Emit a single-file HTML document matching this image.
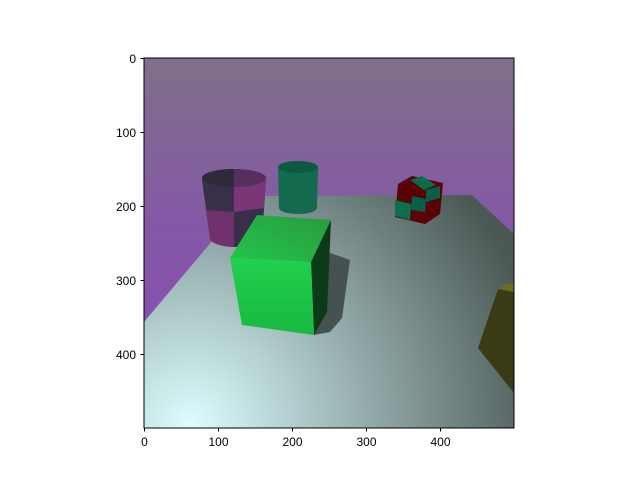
<!DOCTYPE html>
<html><head><meta charset="utf-8"><style>
html,body{margin:0;padding:0;background:#fff;}
svg{display:block;font-family:"Liberation Sans","DejaVu Sans",sans-serif;}
</style></head><body>
<svg width="640" height="480" viewBox="0 0 640 480">
<defs>
<linearGradient id="sky" x1="0" y1="0" x2="0" y2="1">
<stop offset="0" stop-color="#80708a"/><stop offset="0.45" stop-color="#8458a6"/><stop offset="1" stop-color="#8a48b8"/>
</linearGradient>
<radialGradient id="floor" cx="190" cy="425" r="360" gradientUnits="userSpaceOnUse">
<stop offset="0" stop-color="#dcfefe"/><stop offset="0.45" stop-color="#9ab2b2"/><stop offset="1" stop-color="#4b5855"/>
</radialGradient>
<linearGradient id="gfront" x1="0" y1="0" x2="0" y2="1"><stop offset="0" stop-color="#22d04e"/><stop offset="1" stop-color="#18b840"/></linearGradient>
<linearGradient id="gtop" x1="0" y1="1" x2="1" y2="0"><stop offset="0" stop-color="#22c54a"/><stop offset="1" stop-color="#2a9a40"/></linearGradient>
<clipPath id="ax"><rect x="144" y="58" width="370" height="370"/></clipPath>
</defs>
<g clip-path="url(#ax)">
<rect x="144" y="58" width="370" height="370" fill="url(#sky)"/>
<polygon points="250,196 472,195 514,234 514,428 144,428 144,322" fill="url(#floor)"/>
<!-- magenta cylinder -->
<g>
<path d="M202,180 L210,238 A26,9 0 0 0 262,238 L266,180 Z" fill="#3a2f4a"/>
<path d="M234,185 L234,212 L264,208 L266,180 Z" fill="#7a3676"/>
<path d="M206,210 L210,238 A26,9 0 0 0 234,247 L234,212 Z" fill="#70306e"/>
<ellipse cx="234" cy="178" rx="32" ry="9" fill="#55305e"/>
<path d="M202,178 A32,9 0 0 1 234,169 L234,187 A32,9 0 0 1 202,178Z" fill="#2e2a3c"/>
</g>
<!-- green cylinder -->
<g>
<path d="M278,167 L279,208 A19,6 0 0 0 317,208 L318,167 Z" fill="#136a4e"/>
<ellipse cx="298" cy="167" rx="20" ry="6" fill="#0e5a40"/>
</g>
<!-- small checker cube -->
<g>
<polygon points="398,184 412,176 443,183 440,214 425,224 395,217" fill="#5a0206"/>
<polygon points="410,180 422,176 436,185 424,190" fill="#0a6a4a"/>
<polygon points="412,196 426,199 425,212 411,210" fill="#05604a"/>
<polygon points="395,200 411,204 410,220 395,216" fill="#0a7050"/>
<polygon points="426,190 440,186 440,198 426,202" fill="#086048"/>
</g>
<!-- shadow -->
<polygon points="314,335 322,250 350,260 342,318 330,332" fill="#465250"/>
<!-- green cube -->
<g>
<polygon points="230,258 257,215 331,220 311,262" fill="url(#gtop)"/>
<polygon points="311,262 331,220 327,312 314,335" fill="#0b3a16"/>
<polygon points="230,258 311,262 314,335 242,325" fill="url(#gfront)"/>
</g>
<!-- yellow cube -->
<g>
<polygon points="478,348 498,289 514,286 514,393" fill="#3a3a14"/>
<polygon points="498,289 505,284 514,283 514,292" fill="#6a6a22"/>
</g>
</g>
<rect x="144" y="58" width="370" height="370" fill="none" stroke="#000" stroke-width="1"/>
<g id="ticks" font-size="12" fill="#000"></g>
<script>
const xTicks=[0,100,200,300,400];
const yTicks=[0,100,200,300,400];
const ns="http://www.w3.org/2000/svg";
const g=document.getElementById('ticks');
const sx=v=>144.5+v*0.74, sy=v=>58.5+v*0.74;
xTicks.forEach(v=>{
 const l=document.createElementNS(ns,'line');
 l.setAttribute('x1',sx(v));l.setAttribute('x2',sx(v));l.setAttribute('y1',428);l.setAttribute('y2',431.5);l.setAttribute('stroke','#000');
 
 
 g.appendChild(l);
 const t=document.createElementNS(ns,'text');
 t.setAttribute('x',sx(v));t.setAttribute('y',446);t.setAttribute('text-anchor','middle');t.textContent=v;
 
 
 g.appendChild(t);
});
yTicks.forEach(v=>{
 const l=document.createElementNS(ns,'line');
 l.setAttribute('x1',140.5);l.setAttribute('x2',144);l.setAttribute('y1',sy(v));l.setAttribute('y2',sy(v));l.setAttribute('stroke','#000');
 
 
 g.appendChild(l);
 const t=document.createElementNS(ns,'text');
 t.setAttribute('x',136);t.setAttribute('y',sy(v)+4.5);t.setAttribute('text-anchor','end');t.textContent=v;
 
 
 g.appendChild(t);
});
</script>
</svg>
</body></html>
